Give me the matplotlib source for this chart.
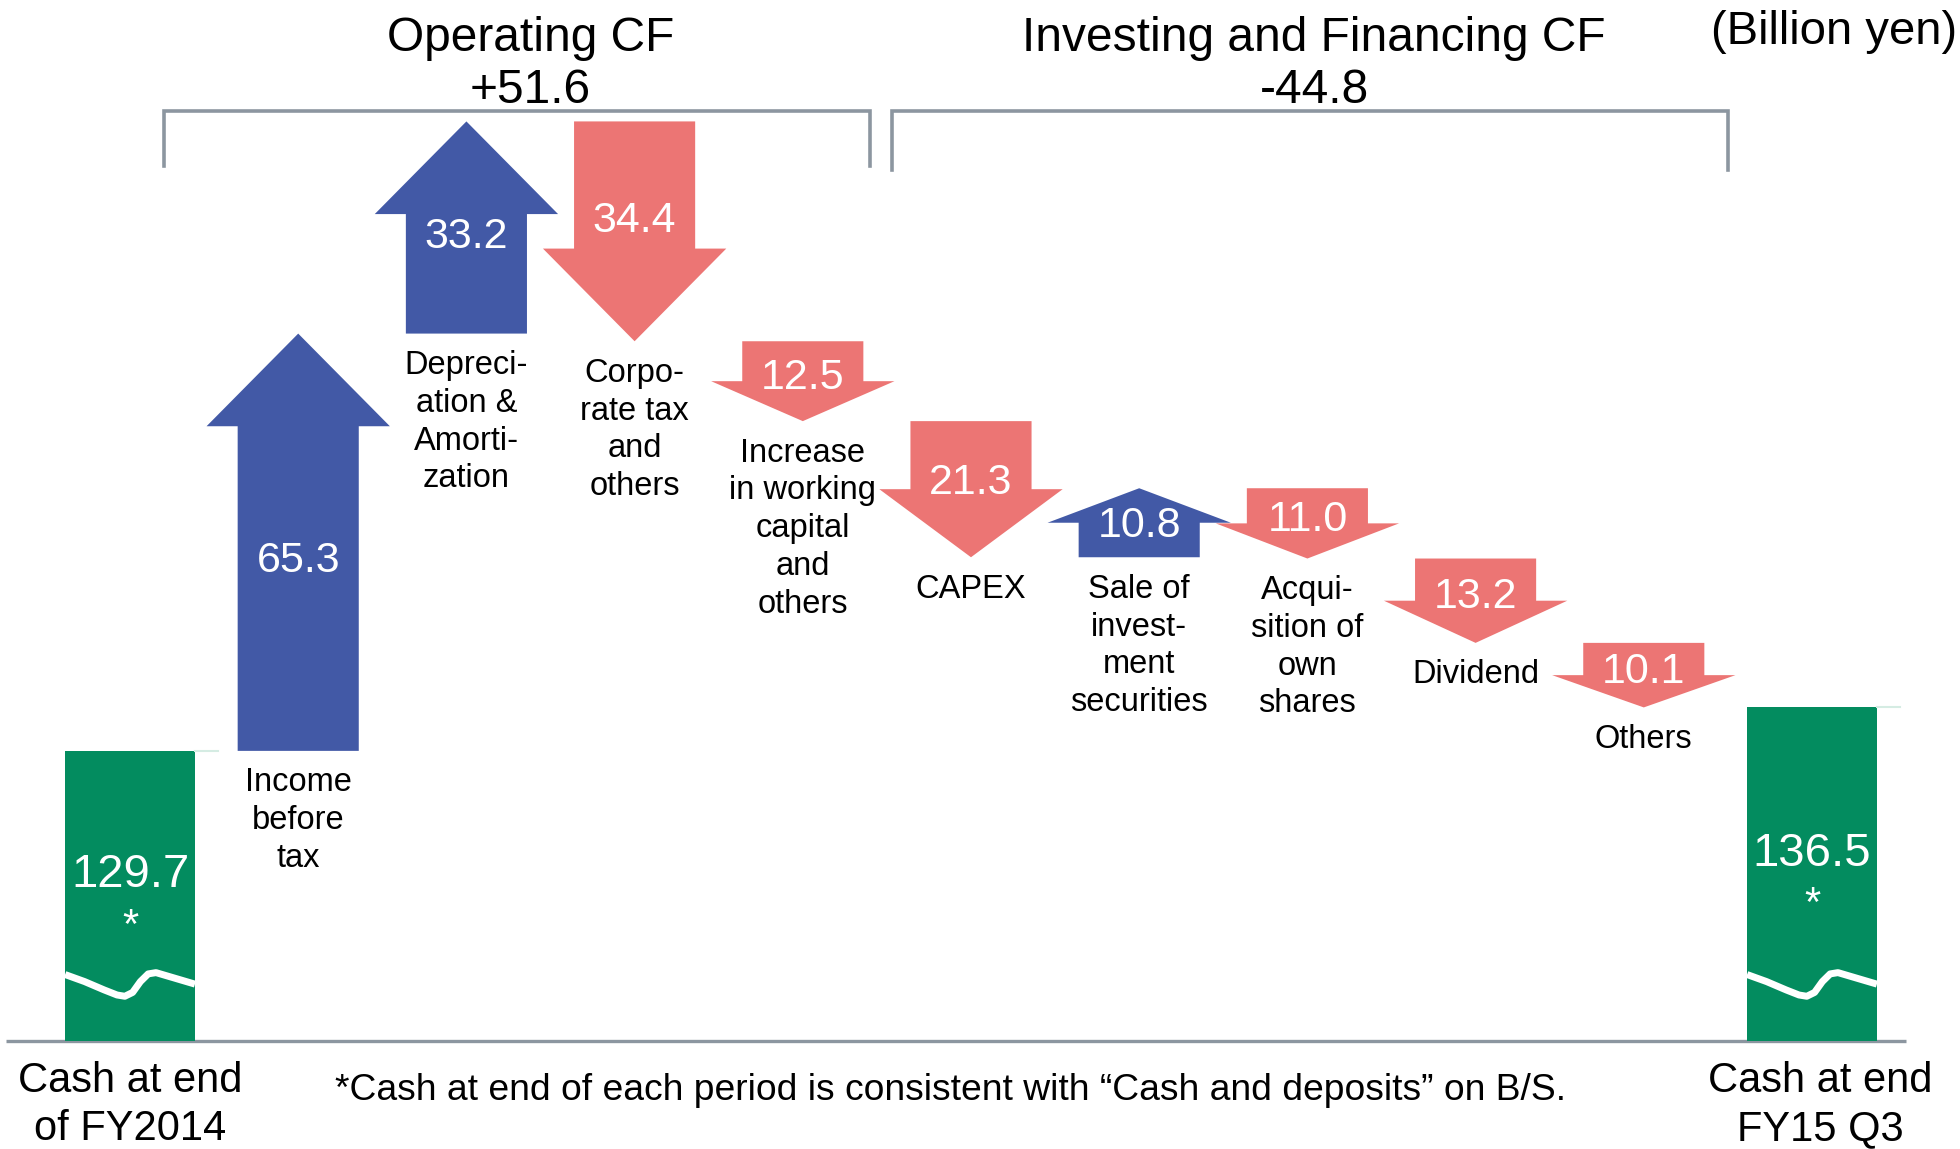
import matplotlib
matplotlib.use("Agg")
import matplotlib.pyplot as plt
from matplotlib.patches import Polygon

plt.rcParams['font.family'] = ['Liberation Sans', 'DejaVu Sans']

# ---------------- data ----------------
start_cash = 129.7
end_cash = 136.5
start_label = "Cash at end\nof FY2014"
end_label = "Cash at end\nFY15 Q3"
categories = ["Income\nbefore\ntax",
              "Depreci-\nation &\nAmorti-\nzation",
              "Corpo-\nrate tax\nand\nothers",
              "Increase\nin working\ncapital\nand\nothers",
              "CAPEX",
              "Sale of\ninvest-\nment\nsecurities",
              "Acqui-\nsition of\nown\nshares",
              "Dividend",
              "Others"]
changes = [65.3, 33.2, -34.4, -12.5, -21.3, 10.8, -11.0, -13.2, -10.1]
group_titles = ["Operating CF\n+51.6", "Investing and Financing CF\n-44.8"]
unit_label = "(Billion yen)"
footnote = "*Cash at end of each period is consistent with \u201cCash and deposits\u201d on B/S."

# ---------------- style ----------------
BLUE = '#4259A6'
RED = '#EC7574'
GREEN = '#038C5F'
GRAY = '#8C96A0'

fig = plt.figure(figsize=(19.6, 11.49), dpi=100)
ax = fig.add_axes([0, 0, 1, 1])
ax.set_xlim(-0.773, 10.88)
ax.set_ylim(67.4, 247.2)
ax.axis('off')

floor = 84.3          # broken-axis floor (baseline)
shaft_half = 0.36
head_half = 0.545
bar_w = 0.772

n = len(changes)
end_x = n + 1

# baseline
ax.plot([-0.735, 10.56], [floor, floor], color=GRAY, lw=2.4, solid_capstyle='butt', zorder=1)

# green end bars
ax.bar([0, end_x], [start_cash - floor, end_cash - floor], bottom=floor,
       width=bar_w, color=GREEN, zorder=2)
wave_t = [0.0, 0.15, 0.3, 0.4, 0.46, 0.52, 0.58, 0.64, 0.7, 0.8, 0.9, 1.0]
wave_h = [10.4, 9.3, 8.0, 7.2, 7.0, 7.6, 9.3, 10.5, 10.7, 10.1, 9.5, 8.9]
for xc, val, lab, dx in [(0, start_cash, start_label, 0.0), (end_x, end_cash, end_label, 0.05)]:
    xs = [xc - bar_w / 2 + t * bar_w for t in wave_t]
    ys = [floor + h for h in wave_h]
    ax.plot(xs, ys, color='white', lw=5, solid_capstyle='butt', zorder=3)
    ax.plot([xc + bar_w / 2, xc + bar_w / 2 + 0.14], [val, val], color='#d5ece3', lw=1.5, zorder=2)
    mid = (val + floor) / 2
    ax.text(xc, mid + 3.2, f"{val:.1f}", color='white', fontsize=34,
            ha='center', va='center', zorder=4)
    ax.text(xc, mid - 4.8, "*", color='white', fontsize=30,
            ha='center', va='center', zorder=4)
    ax.text(xc + dx, 74.25, lab, fontsize=30, ha='center', va='center',
            linespacing=1.25, zorder=4)

# arrows
level = start_cash
for i, (v, lab) in enumerate(zip(changes, categories)):
    x = i + 1
    b = level
    t = level + v
    sgn = 1 if v > 0 else -1
    h = min(0.5 * abs(v), 14.5)
    hb = t - sgn * h
    pts = [(x - shaft_half, b), (x + shaft_half, b), (x + shaft_half, hb),
           (x + head_half, hb), (x, t), (x - head_half, hb), (x - shaft_half, hb)]
    ax.add_patch(Polygon(pts, closed=True, facecolor=BLUE if v > 0 else RED,
                         edgecolor='none', zorder=2))
    ax.text(x, (b + t) / 2 - 0.045 * v, f"{abs(v):.1f}", color='white',
            fontsize=31, ha='center', va='center', zorder=4)
    ax.text(x, min(b, t) - 2.6, lab, fontsize=23.5, ha='center', va='top',
            linespacing=1.28, zorder=4)
    level = t

# brackets
for (x0, x1, ybot) in [(0.203, 4.40, 221.2), (4.53, 9.50, 220.6)]:
    ax.plot([x0, x0, x1, x1], [ybot, 229.8, 229.8, ybot], color=GRAY, lw=2.6,
            solid_joinstyle='miter', zorder=1)

ax.text(2.38, 237.1, group_titles[0], fontsize=34.5, ha='center', va='center', linespacing=1.2)
ax.text(7.04, 237.1, group_titles[1], fontsize=34.5, ha='center', va='center', linespacing=1.2)
ax.text(10.865, 242.2, unit_label, fontsize=34, ha='right', va='center')
ax.text(4.88, 76.6, footnote, fontsize=26.8, ha='center', va='center')

fig.savefig("out.png", dpi=100)
